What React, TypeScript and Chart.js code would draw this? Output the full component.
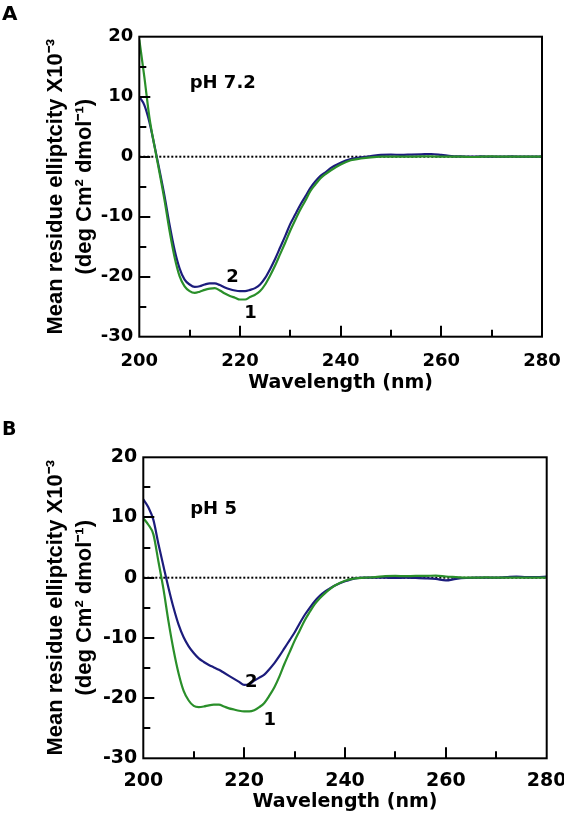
import React, { useEffect, useRef } from "react";
import { Chart, registerables } from "chart.js";

Chart.register(...registerables);

// ---------- data ----------
const wavelengths = [
  200, 201, 202, 203, 204, 205, 206, 207, 208, 209,
  210, 211, 212, 213, 214, 215, 216, 217, 218, 219,
  220, 221, 222, 223, 224, 225, 226, 227, 228, 229,
  230, 231, 232, 233, 234, 235, 236, 237, 238,
  240, 242, 244, 246, 248, 250, 252, 254, 256, 258, 260,
  262, 264, 266, 268, 270, 272, 274, 276, 278, 280,
];

// Panel A, pH 7.2
const pH72_curve1 = [
  19.5, 13.3, 6.6, 1.8, -2.6, -7.2, -12.3, -16.7, -19.9, -21.6,
  -22.4, -22.7, -22.5, -22.2, -22.0, -21.9, -22.3, -22.8, -23.2, -23.5,
  -23.8, -23.8, -23.4, -23.0, -22.4, -21.3, -19.8, -18.1, -16.2, -14.3,
  -12.3, -10.5, -8.8, -7.3, -5.7, -4.6, -3.6, -2.9, -2.3,
  -1.3, -0.6, -0.3, -0.1, 0, 0, 0, 0, 0.05, 0.05, 0,
  0, 0, -0.05, 0, 0.05, 0, 0, 0, 0, 0,
];
const pH72_curve2 = [
  10.0, 8.6, 5.8, 1.9, -2.2, -6.5, -11.3, -15.5, -18.6, -20.5,
  -21.3, -21.7, -21.6, -21.3, -21.1, -21.1, -21.4, -21.8, -22.1, -22.3,
  -22.4, -22.4, -22.2, -21.9, -21.3, -20.2, -18.7, -17.0, -15.1, -13.2,
  -11.2, -9.6, -8.0, -6.6, -5.2, -4.1, -3.2, -2.6, -1.9,
  -1.0, -0.4, -0.1, 0.1, 0.3, 0.35, 0.3, 0.35, 0.4, 0.45, 0.3,
  0.1, 0.05, 0, 0.05, 0, 0, 0.05, 0, 0, 0,
];

// Panel B, pH 5
const pH5_curve1 = [
  9.9, 8.8, 7.2, 2.7, -1.9, -7.3, -12.0, -15.9, -18.8, -20.4,
  -21.3, -21.5, -21.4, -21.2, -21.1, -21.1, -21.4, -21.7, -21.9, -22.1,
  -22.2, -22.2, -22.0, -21.5, -20.8, -19.6, -18.2, -16.4, -14.3, -12.4,
  -10.5, -8.8, -7.1, -5.7, -4.4, -3.4, -2.6, -1.9, -1.3,
  -0.5, -0.1, 0, 0.1, 0.25, 0.3, 0.25, 0.3, 0.3, 0.35, 0.2,
  0.1, 0, 0, 0.05, 0, 0, 0, 0, 0, 0,
];
const pH5_curve2 = [
  13.0, 11.7, 9.6, 5.6, 1.9, -1.7, -5.0, -7.8, -9.9, -11.4,
  -12.5, -13.4, -14.0, -14.5, -14.9, -15.3, -15.8, -16.3, -16.8, -17.3,
  -17.8, -17.7, -17.1, -16.6, -16.1, -15.2, -14.2, -13.0, -11.7, -10.4,
  -9.1, -7.6, -6.2, -5.0, -3.9, -3.0, -2.3, -1.8, -1.3,
  -0.6, -0.1, 0, 0, 0, -0.05, 0, -0.05, -0.1, -0.2, -0.45,
  -0.2, -0.05, 0, 0, 0, 0.1, 0.2, 0.1, 0.1, 0.2,
];

const zeroLineX = [200, 280];
const zeroLineY = [0, 0];

const xTickLabels = [200, 220, 240, 260, 280];
const yTickLabels = [-30, -20, -10, 0, 10, 20];
const xTickMarks = [210, 220, 230, 240, 250, 260, 270];
const yTickMarks = [-25, -20, -15, -10, -5, 0, 5, 10, 15];

const notesA = [
  { text: "pH 7.2", x: 210.0, y: 11.5, align: "left" },
  { text: "2", x: 218.5, y: -20.8, align: "center" },
  { text: "1", x: 222.1, y: -26.9, align: "center" },
];
const notesB = [
  { text: "pH 5", x: 209.3, y: 10.6, align: "left" },
  { text: "2", x: 221.4, y: -18.1, align: "center" },
  { text: "1", x: 225.1, y: -24.4, align: "center" },
];

const yTitleLines = ["Mean residue elliptcity X10\u207B\u00B3", "(deg Cm\u00B2 dmol\u207B\u00B9)"];
const xTitle = "Wavelength (nm)";

// ---------- styles ----------
const BLUE = "#1c1c7c";
const GREEN = "#2a8f2a";
const SANS = "'DejaVu Sans', sans-serif";
const ARIAL = "'Liberation Sans', Arial, sans-serif";

interface PanelCfg {
  letter: string;
  letterBaseline: number;
  letterSize: number;
  width: number;
  height: number;
  top: number;
  padTop: number;
  padRight: number;
  yAxisWidth: number;
  xAxisHeight: number;
  xTickPad: number;
  yTickPad: number;
  tickSize: number;
  xTitlePadBottom: number;
  curve1: number[];
  curve2: number[];
  notes: { text: string; x: number; y: number; align: string }[];
}

const panelA: PanelCfg = {
  letter: "A",
  letterBaseline: 20,
  letterSize: 20,
  width: 564,
  height: 410,
  top: 0,
  padTop: 36.7,
  padRight: 22,
  yAxisWidth: 139.3,
  xAxisHeight: 73.3,
  xTickPad: 13.4,
  yTickPad: 6,
  tickSize: 18,
  xTitlePadBottom: 15.2,
  curve1: pH72_curve1,
  curve2: pH72_curve2,
  notes: notesA,
};

const panelB: PanelCfg = {
  letter: "B",
  letterBaseline: 25,
  letterSize: 19,
  width: 564,
  height: 409,
  top: 410,
  padTop: 47.3,
  padRight: 17.3,
  yAxisWidth: 143.3,
  xAxisHeight: 60.7,
  xTickPad: 11.5,
  yTickPad: 6,
  tickSize: 19,
  xTitlePadBottom: 5.2,
  curve1: pH5_curve1,
  curve2: pH5_curve2,
  notes: notesB,
};

function toXY(xs: number[], ys: number[]) {
  return xs.map((x, i) => ({ x, y: ys[i] }));
}

function makeDecor(cfg: PanelCfg) {
  return {
    id: "decor" + cfg.letter,
    afterDatasetsDraw(chart: any) {
      const { ctx, chartArea: a, scales } = chart;
      const xs = scales.x;
      const ys = scales.y;
      ctx.save();
      // frame
      ctx.strokeStyle = "#000";
      ctx.lineWidth = 2;
      ctx.strokeRect(a.left, a.top, a.right - a.left, a.bottom - a.top);
      // inward tick marks
      ctx.beginPath();
      xTickMarks.forEach((v) => {
        const px = Math.round(xs.getPixelForValue(v));
        const len = v % 20 === 0 ? 11 : 7;
        ctx.moveTo(px, a.bottom);
        ctx.lineTo(px, a.bottom - len);
      });
      yTickMarks.forEach((v) => {
        const py = Math.round(ys.getPixelForValue(v));
        const len = v % 10 === 0 ? 11 : 7;
        ctx.moveTo(a.left, py);
        ctx.lineTo(a.left + len, py);
      });
      ctx.stroke();
      // annotations
      ctx.fillStyle = "#000";
      ctx.textBaseline = "alphabetic";
      cfg.notes.forEach((n) => {
        ctx.font = "bold 18px " + SANS;
        ctx.textAlign = n.align;
        ctx.fillText(n.text, xs.getPixelForValue(n.x), ys.getPixelForValue(n.y));
      });
      // panel letter
      ctx.font = `bold ${cfg.letterSize}px ${SANS}`;
      ctx.textAlign = "left";
      ctx.fillText(cfg.letter, 2, cfg.letterBaseline);
      ctx.restore();
    },
  };
}

function Panel({ cfg }: { cfg: PanelCfg }) {
  const ref = useRef<HTMLCanvasElement | null>(null);
  useEffect(() => {
    if (!ref.current) return;
    const chart = new Chart(ref.current, {
      type: "line",
      data: {
        datasets: [
          {
            label: "zero",
            data: toXY(zeroLineX, zeroLineY),
            borderColor: "#000",
            borderWidth: 2,
            borderDash: [2, 2],
            pointRadius: 0,
            order: 3,
          },
          {
            label: "2",
            data: toXY(wavelengths, cfg.curve2),
            borderColor: BLUE,
            borderWidth: 2.2,
            pointRadius: 0,
            cubicInterpolationMode: "monotone",
            order: 2,
          },
          {
            label: "1",
            data: toXY(wavelengths, cfg.curve1),
            borderColor: GREEN,
            borderWidth: 2.2,
            pointRadius: 0,
            cubicInterpolationMode: "monotone",
            order: 1,
          },
        ],
      },
      options: {
        responsive: false,
        animation: false,
        layout: { padding: { left: 0, top: cfg.padTop, right: cfg.padRight, bottom: 0 } },
        plugins: { legend: { display: false }, tooltip: { enabled: false }, title: { display: false } },
        scales: {
          x: {
            type: "linear",
            position: "bottom",
            min: 200,
            max: 280,
            grid: { display: false, drawTicks: false },
            border: { display: false },
            afterBuildTicks: (s: any) => {
              s.ticks = xTickLabels.map((v) => ({ value: v }));
            },
            afterFit: (s: any) => {
              s.height = cfg.xAxisHeight;
              s.paddingLeft = 0;
              s.paddingRight = 0;
            },
            ticks: {
              padding: cfg.xTickPad,
              color: "#000",
              maxRotation: 0,
              autoSkip: false,
              font: { family: SANS, size: cfg.tickSize, weight: "bold" },
            },
            title: {
              display: true,
              text: xTitle,
              color: "#000",
              font: { family: SANS, size: 19, weight: "bold", lineHeight: 1.2 },
              padding: { top: 0, bottom: cfg.xTitlePadBottom },
            },
          },
          y: {
            type: "linear",
            position: "left",
            min: -30,
            max: 20,
            grid: { display: false, drawTicks: false },
            border: { display: false },
            afterBuildTicks: (s: any) => {
              s.ticks = yTickLabels.map((v) => ({ value: v }));
            },
            afterFit: (s: any) => {
              s.width = cfg.yAxisWidth;
              s.paddingTop = 0;
              s.paddingBottom = 0;
            },
            ticks: {
              padding: cfg.yTickPad,
              color: "#000",
              autoSkip: false,
              font: { family: SANS, size: cfg.tickSize, weight: "bold" },
            },
            title: {
              display: true,
              text: yTitleLines,
              color: "#000",
              font: { family: ARIAL, size: 22, weight: "bold", lineHeight: 1.32 },
              padding: { top: 41, bottom: 0 },
            },
          },
        },
      },
      plugins: [makeDecor(cfg)],
    } as any);
    return () => chart.destroy();
  }, [cfg]);
  return (
    <canvas
      ref={ref}
      width={cfg.width}
      height={cfg.height}
      style={{ position: "absolute", left: 0, top: cfg.top, width: cfg.width, height: cfg.height, display: "block" }}
    />
  );
}

export default function App() {
  return (
    <div style={{ position: "absolute", left: 0, top: 0, width: 564, height: 819, background: "#fff" }}>
      <Panel cfg={panelA} />
      <Panel cfg={panelB} />
    </div>
  );
}
